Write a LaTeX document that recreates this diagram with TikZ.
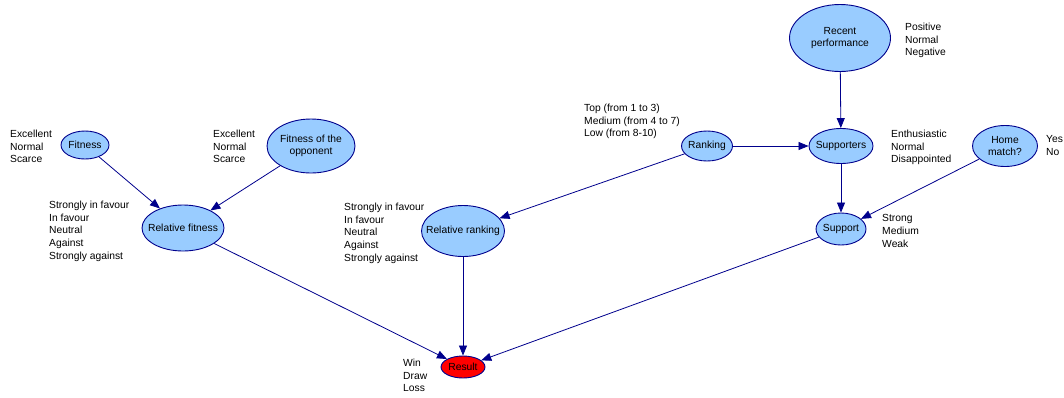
\documentclass[tikz,border=0pt]{standalone}
\usepackage{fontspec}
\setmainfont{Liberation Sans}
\usetikzlibrary{shapes.geometric,arrows.meta}
\definecolor{nodefill}{RGB}{153,204,255}
\definecolor{edgecol}{RGB}{0,0,140}
\definecolor{resred}{RGB}{255,0,0}
\newcommand{\zw}[1]{\makebox[0pt]{#1}}
\tikzset{
  var/.style={ellipse,draw=edgecol,line width=0.9pt,fill=nodefill,inner sep=0pt,align=center,font=\fontsize{10.3}{11.5}\selectfont},
  states/.style={anchor=north west,inner sep=0pt,align=left,font=\fontsize{10.3}{12.8}\selectfont},
  link/.style={draw=edgecol,line width=0.8pt,-{Triangle[length=10pt,width=8pt]}}
}
\begin{document}
\begin{tikzpicture}[x=1pt,y=-1pt]
\useasboundingbox (0,0) rectangle (1064,397);
% variables
\node[var,minimum width=48,minimum height=28] (fit) at (85,145) {\zw{Fitness}};
\node[var,minimum width=88,minimum height=54] (opp) at (311,146) {\zw{Fitness of the}\\\zw{opponent}};
\node[var,minimum width=82,minimum height=46] (relfit) at (183,228) {\zw{Relative fitness}};
\node[var,minimum width=83,minimum height=51] (relrank) at (463,231) {\zw{Relative ranking}};
\node[var,minimum width=51,minimum height=30] (rank) at (707,146) {\zw{Ranking}};
\node[var,minimum width=101,minimum height=67] (recent) at (840,38) {\zw{Recent}\\\zw{performance}};
\node[var,minimum width=64,minimum height=35] (supp) at (841,146) {\zw{Supporters}};
\node[var,minimum width=65,minimum height=41] (home) at (1005,146) {\zw{Home}\\\zw{match?}};
\node[var,minimum width=50,minimum height=32] (support) at (841,229) {\zw{Support}};
\node[var,fill=resred,minimum width=44,minimum height=22] (result) at (463,367) {\zw{Result}};
% states
\node[states] (sfit) at (10,129.6) {Excellent\\Normal\\Scarce};
\node[states] (sopp) at (213,129.6) {Excellent\\Normal\\Scarce};
\node[states] (srelfit) at (49,200.6) {Strongly in favour\\In favour\\Neutral\\Against\\Strongly against};
\node[states] (srelrank) at (344,202.6) {Strongly in favour\\In favour\\Neutral\\Against\\Strongly against};
\node[states] (srank) at (584,103.6) {Top (from 1 to 3)\\Medium (from 4 to 7)\\Low (from 8-10)};
\node[states] (srecent) at (905,22.6) {Positive\\Normal\\Negative};
\node[states] (ssupp) at (891,129.6) {Enthusiastic\\Normal\\Disappointed};
\node[states] (shome) at (1046,135.6) {Yes\\No};
\node[states] (ssupport) at (882,214.6) {Strong\\Medium\\Weak};
\node[states] (sresult) at (403,358.6) {Win\\Draw\\Loss};
% links
\draw[link] (fit) -- (relfit);
\draw[link] (opp) -- (relfit);
\draw[link] (relfit) -- (result);
\draw[link] (rank) -- (relrank);
\draw[link] (rank) -- (supp);
\draw[link] (recent) -- (supp);
\draw[link] (supp) -- (support);
\draw[link] (home) -- (support);
\draw[link] (relrank) -- (result);
\draw[link] (support) -- (result);
\end{tikzpicture}
\end{document}
